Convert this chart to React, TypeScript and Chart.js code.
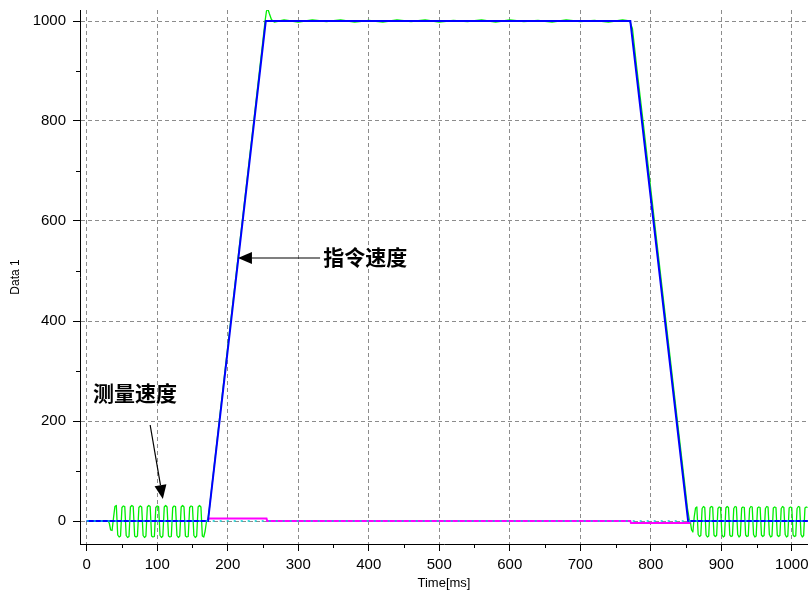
import React, { useEffect, useRef } from 'react';
import { Chart, registerables } from 'chart.js';

Chart.register(...registerables);

// ---- axis ranges and ticks ----
const X_MIN = -9.5;
const X_MAX = 1023;
const Y_MIN = -46;
const Y_MAX = 1022;
const xMajorTicks = [0, 100, 200, 300, 400, 500, 600, 700, 800, 900, 1000];
const xMinorTicks = [50, 150, 250, 350, 450, 550, 650, 750, 850, 950];
const yMajorTicks = [0, 200, 400, 600, 800, 1000];
const yMinorTicks = [100, 300, 500, 700, 900];
const xTitle = 'Time[ms]';
const yTitle = 'Data 1';

// ---- command speed (blue) ----
const commandT = [0, 172, 254, 771, 853, 1023];
const commandV = [0, 0, 1000, 1000, 0, 0];

// ---- measured speed (green) ----
// left idle oscillation, sampled every 2 ms starting at 22 ms
const greenLeftStart = 22;
const greenLeftStep = 2;
const greenLeftV = [
  0, 0, 0, 0, 0, -4, -18, -19, 6, 29, 31,
  -28, -32, -30, 27, 30, 29, -29, -33, -31, 28, 31, 29,
  -30, -32, -30, 27, 30, 28, -29, -33, -30, 28, 31, 29,
  -30, -32, -31, 27, 30, 29, -29, -33, -30, 28, 31, 28,
  -30, -32, -31, 27, 30, 29, -29, -33, -30, 28, 31, 28,
  -30, -32, -31, 27, 30, 29, -29, -33, -30, 28, 31, 28,
  -30, -32, -20,
];
// ramp up, plateau, ramp down
const greenMidT = [
  170, 172, 174, 180, 190, 200, 210, 220, 230, 240, 250, 253, 255, 257, 259, 262, 266,
  280, 300, 320, 340, 360, 380, 400, 420, 440, 460, 480, 500, 520, 540, 560, 580, 600,
  620, 640, 660, 680, 700, 720, 740, 760, 770, 774, 780, 790, 800, 810, 820, 830, 840,
  848, 852, 855,
];
const greenMidV = [
  0, 3, 25, 100, 225, 348, 470, 592, 715, 838, 962, 1000, 1020, 1024, 1015, 1003, 998,
  1002, 998, 1002, 999, 1002, 998, 1001, 998, 1002, 999, 1002, 998, 1001, 999, 1002, 998, 1002,
  999, 1001, 998, 1002, 999, 1001, 998, 1002, 1000, 985, 908, 788, 664, 541, 418, 296, 173,
  76, 26, 0,
];
// right idle oscillation, sampled every 1.87 ms starting at 856 ms
const greenRightStart = 856;
const greenRightStep = 1.87;
const greenRightV = [
  0, -18, -22, 8, 26, 28,
  -27, -31, -29, 25, 29, 27,
  -28, -32, -30, 26, 29, 28,
  -28, -31, -29, 25, 28, 27,
  -27, -32, -30, 26, 29, 27,
  -28, -31, -30, 25, 29, 28,
  -27, -32, -29, 26, 28, 27,
  -28, -31, -30, 25, 29, 28,
  -27, -32, -30, 26, 28, 27,
  -28, -31, -29, 25, 29, 28,
  -27, -32, -30, 26, 28, 27,
  -28, -31, -29, 25, 29, 27,
  -27, -32, -30, 26, 28, 27,
  -28, -31, -30, 25, 29, 28,
  -27, -32, -29, 26, 28, 27,
];

// ---- other traces ----
const magentaT = [0, 172, 173, 255, 256, 771, 772, 855, 856, 1023];
const magentaV = [0, 0, 5, 5, 0, 0, -4, -4, 0, 0];
const cyanT = [0, 1023];
const cyanV = [0, 0];

// ---- annotations (data coordinates) ----
const annTexts = ['指令速度', '测量速度'];
const annTextT = [395, 68.5];
const annTextV = [527, 256];
const arrowFromT = [331, 90];
const arrowFromV = [526, 192];
const arrowToT = [214.5, 108];
const arrowToV = [526, 44];

const SANS = "'Liberation Sans', Arial, sans-serif";
const CJK = "'Noto Sans CJK SC', sans-serif";

function pts(t: number[], v: number[]) {
  return v.map((y, i) => ({ x: t[i], y }));
}
function sampled(start: number, step: number, v: number[]) {
  return v.map((y, i) => ({ x: start + i * step, y }));
}

const minorTickPlugin = {
  id: 'minorTicks',
  afterDraw(chart: any) {
    const { ctx, chartArea, scales } = chart;
    const x = scales.x;
    const y = scales.y;
    ctx.save();
    ctx.strokeStyle = '#000';
    ctx.lineWidth = 1;
    ctx.beginPath();
    xMinorTicks.forEach((v) => {
      const px = Math.round(x.getPixelForValue(v)) + 0.5;
      ctx.moveTo(px, chartArea.bottom);
      ctx.lineTo(px, chartArea.bottom + 4);
    });
    yMinorTicks.forEach((v) => {
      const py = Math.round(y.getPixelForValue(v)) + 0.5;
      ctx.moveTo(chartArea.left - 4, py);
      ctx.lineTo(chartArea.left, py);
    });
    ctx.stroke();
    ctx.restore();
  },
};

function drawArrow(ctx: CanvasRenderingContext2D, x1: number, y1: number, x2: number, y2: number) {
  const dx = x2 - x1;
  const dy = y2 - y1;
  const len = Math.hypot(dx, dy);
  const ux = dx / len;
  const uy = dy / len;
  const headLen = 14;
  const headHalf = 6;
  const bx = x2 - ux * headLen;
  const by = y2 - uy * headLen;
  ctx.beginPath();
  ctx.moveTo(x1, y1);
  ctx.lineTo(bx, by);
  ctx.stroke();
  ctx.beginPath();
  ctx.moveTo(x2, y2);
  ctx.lineTo(bx - uy * headHalf, by + ux * headHalf);
  ctx.lineTo(bx + uy * headHalf, by - ux * headHalf);
  ctx.closePath();
  ctx.fill();
}

const annotationPlugin = {
  id: 'annotations',
  afterDatasetsDraw(chart: any) {
    const { ctx, scales } = chart;
    const x = scales.x;
    const y = scales.y;
    ctx.save();
    ctx.fillStyle = '#000';
    ctx.strokeStyle = '#000';
    ctx.lineWidth = 1.2;
    ctx.font = `bold 21px ${CJK}`;
    ctx.textAlign = 'center';
    ctx.textBaseline = 'middle';
    annTexts.forEach((t, i) => {
      ctx.fillText(t, x.getPixelForValue(annTextT[i]), y.getPixelForValue(annTextV[i]));
      drawArrow(
        ctx,
        x.getPixelForValue(arrowFromT[i]),
        y.getPixelForValue(arrowFromV[i]),
        x.getPixelForValue(arrowToT[i]),
        y.getPixelForValue(arrowToV[i])
      );
    });
    ctx.restore();
  },
};

export default function App() {
  const ref = useRef<HTMLCanvasElement>(null);
  useEffect(() => {
    if (!ref.current) return;
    const greenData = [
      ...sampled(greenLeftStart, greenLeftStep, greenLeftV),
      ...pts(greenMidT, greenMidV),
      ...sampled(greenRightStart, greenRightStep, greenRightV),
    ];
    const gridCommon = {
      color: '#8c8c8c',
      lineWidth: 1,
      drawTicks: true,
      tickLength: 7,
      tickColor: '#000',
      tickWidth: 1,
      tickBorderDash: [],
    };
    const borderCommon = { display: true, color: '#000', width: 1, dash: [4, 3] };
    const chart = new Chart(ref.current, {
      type: 'line',
      data: {
        datasets: [
          {
            label: 'ref',
            data: pts(cyanT, cyanV),
            borderColor: '#00d0d0',
            borderWidth: 1.5,
            borderDash: [2, 5],
            pointRadius: 0,
          },
          {
            label: '指令速度',
            data: pts(commandT, commandV),
            borderColor: '#0000ff',
            borderWidth: 2,
            pointRadius: 0,
          },
          {
            label: 'err',
            data: pts(magentaT, magentaV),
            borderColor: '#ff00ff',
            borderWidth: 2,
            pointRadius: 0,
          },
          {
            label: '测量速度',
            data: greenData,
            borderColor: '#00ee00',
            borderWidth: 1.3,
            borderJoinStyle: 'round',
            pointRadius: 0,
          },
        ],
      },
      options: {
        animation: false,
        responsive: false,
        maintainAspectRatio: false,
        layout: { padding: { top: 10, right: 0, left: 0, bottom: 0 } },
        plugins: { legend: { display: false }, tooltip: { enabled: false } },
        elements: { line: { tension: 0 }, point: { radius: 0 } },
        scales: {
          x: {
            type: 'linear',
            position: 'bottom',
            min: X_MIN,
            max: X_MAX,
            afterBuildTicks: (s: any) => {
              s.ticks = xMajorTicks.map((v) => ({ value: v }));
            },
            afterFit: (s: any) => {
              s.height = 48;
              s.paddingLeft = 0;
              s.paddingRight = 0;
            },
            ticks: {
              autoSkip: false,
              maxRotation: 0,
              color: '#000',
              font: { family: SANS, size: 15 },
              padding: 5,
              callback: (v: any) => String(v),
            },
            grid: gridCommon,
            border: borderCommon,
            title: {
              display: true,
              text: xTitle,
              color: '#000',
              font: { family: SANS, size: 13 },
              padding: { top: 0, bottom: 1 },
            },
          },
          y: {
            type: 'linear',
            position: 'left',
            min: Y_MIN,
            max: Y_MAX,
            afterBuildTicks: (s: any) => {
              s.ticks = yMajorTicks.map((v) => ({ value: v }));
            },
            afterFit: (s: any) => {
              s.width = 80;
              s.paddingTop = 0;
              s.paddingBottom = 0;
            },
            ticks: {
              autoSkip: false,
              color: '#000',
              font: { family: SANS, size: 15 },
              padding: 7,
              callback: (v: any) => String(v),
            },
            grid: gridCommon,
            border: borderCommon,
            title: {
              display: true,
              text: yTitle,
              color: '#000',
              font: { family: SANS, size: 12 },
              padding: { top: 8, bottom: 0 },
            },
          },
        },
      },
      plugins: [minorTickPlugin, annotationPlugin],
    } as any);
    return () => chart.destroy();
  }, []);
  return (
    <div style={{ position: 'absolute', left: 0, top: 0, width: 808, height: 592, background: '#fff' }}>
      <canvas ref={ref} width={808} height={592} style={{ display: 'block' }} />
    </div>
  );
}
